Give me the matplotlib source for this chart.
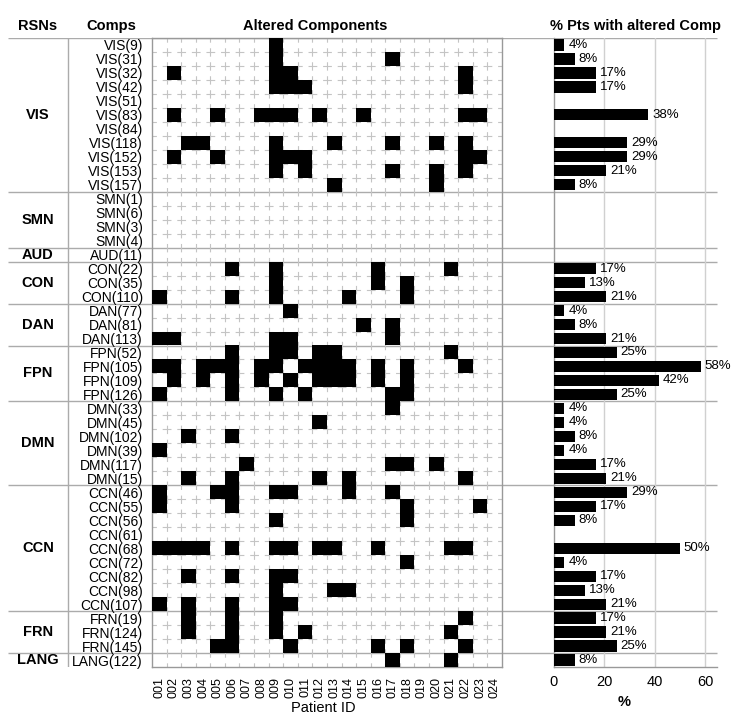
import matplotlib
matplotlib.use("Agg")
import matplotlib.pyplot as plt
from matplotlib import font_manager as fm
from matplotlib.colors import ListedColormap
import numpy as np

# resting state networks and how many components each has
rsn_names = ["VIS", "SMN", "AUD", "CON", "DAN", "FPN", "DMN", "CCN", "FRN", "LANG"]
rsn_sizes = [11, 4, 1, 3, 3, 4, 6, 9, 3, 1]

comps = ["VIS(9)", "VIS(31)", "VIS(32)", "VIS(42)", "VIS(51)", "VIS(83)", "VIS(84)",
         "VIS(118)", "VIS(152)", "VIS(153)", "VIS(157)",
         "SMN(1)", "SMN(6)", "SMN(3)", "SMN(4)",
         "AUD(11)",
         "CON(22)", "CON(35)", "CON(110)",
         "DAN(77)", "DAN(81)", "DAN(113)",
         "FPN(52)", "FPN(105)", "FPN(109)", "FPN(126)",
         "DMN(33)", "DMN(45)", "DMN(102)", "DMN(39)", "DMN(117)", "DMN(15)",
         "CCN(46)", "CCN(55)", "CCN(56)", "CCN(61)", "CCN(68)", "CCN(72)",
         "CCN(82)", "CCN(98)", "CCN(107)",
         "FRN(19)", "FRN(124)", "FRN(145)",
         "LANG(122)"]

# patients (1..24) in which each component is altered
altered = [
    [9], [9, 17], [2, 9, 10, 22], [9, 10, 11, 22], [],
    [2, 5, 8, 9, 10, 12, 15, 22, 23], [], [3, 4, 9, 13, 17, 20, 22],
    [2, 5, 9, 10, 11, 22, 23], [9, 11, 17, 20, 22], [13, 20],
    [], [], [], [],
    [],
    [6, 9, 16, 21], [9, 16, 18], [1, 6, 9, 14, 18],
    [10], [15, 17], [1, 2, 9, 10, 17],
    [6, 9, 10, 12, 13, 21], [1, 2, 4, 5, 6, 8, 9, 11, 12, 13, 14, 16, 18, 22],
    [2, 4, 6, 8, 10, 12, 13, 14, 16, 18], [1, 6, 9, 11, 17, 18],
    [17], [12], [3, 6], [1], [7, 17, 18, 20], [3, 6, 12, 14, 22],
    [1, 5, 6, 9, 10, 14, 17], [1, 6, 18, 23], [9, 18], [],
    [1, 2, 3, 4, 6, 9, 10, 12, 13, 16, 21, 22], [18], [3, 6, 9, 10],
    [9, 13, 14], [1, 3, 6, 9, 10],
    [3, 6, 9, 22], [3, 6, 9, 11, 21], [5, 6, 10, 16, 18, 22],
    [17, 21],
]

patients = ["%03d" % p for p in range(1, 25)]


def has_font(name):
    try:
        fm.findfont(fm.FontProperties(family=name), fallback_to_default=False)
        return True
    except Exception:
        return False


plt.rcParams["font.family"] = ["Liberation Sans", "DejaVu Sans"]
plt.rcParams["lines.scale_dashes"] = False
narrow = "Liberation Sans Narrow" if has_font("Liberation Sans Narrow") else "Liberation Sans"

n = len(comps)
npat = len(patients)
mat = np.zeros((n, npat))
for i, pts in enumerate(altered):
    for p in pts:
        mat[i, p - 1] = 1
pct = mat.sum(axis=1) / npat * 100

W, H = 740, 720
fig = plt.figure(figsize=(W / 100, H / 100), dpi=100)


def px_axes(x0, y0, x1, y1):
    return fig.add_axes([x0 / W, 1 - y1 / H, (x1 - x0) / W, (y1 - y0) / H])


top, bot = 38, 667
sep_col = "#ababab"
bounds = np.cumsum([0] + rsn_sizes)[:-1]

# background: separators and group labels
bg = px_axes(0, top, W, bot)
bg.set_xlim(0, W)
bg.set_ylim(n - 0.5, -0.5)
bg.axis("off")
bg.hlines(bounds - 0.5, 8, 717, color=sep_col, lw=1)
bg.vlines(68, -0.5, n - 0.5, color=sep_col, lw=1)
for name, start, size in zip(rsn_names, bounds, rsn_sizes):
    bg.text(38, start + (size - 1) / 2, name, ha="center", va="center",
            fontsize=10.5, fontweight="bold")

# altered components grid
ax = px_axes(152, top, 502, bot)
ax.set_facecolor("none")
row_pt = (bot - top) / n * 0.72
col_pt = 350 / npat * 0.72
ax.vlines(np.arange(1, npat) - 0.5, -0.5, n - 0.5, color="#c4c4c4", lw=0.8,
          linestyles=[(row_pt * 0.3, (row_pt * 0.6, row_pt * 0.4))])
inner = [r for r in range(1, n) if r not in bounds]
ax.hlines(np.array(inner) - 0.5, -0.5, npat - 0.5, color="#c4c4c4", lw=0.8,
          linestyles=[(col_pt * 0.3, (col_pt * 0.6, col_pt * 0.4))])
ax.imshow(np.ma.masked_equal(mat, 0), cmap=ListedColormap(["black"]),
          aspect="auto", interpolation="nearest", zorder=3)
ax.set_xlim(-0.5, npat - 0.5)
ax.set_ylim(n - 0.5, -0.5)
ax.set_xticks(range(npat))
ax.set_xticklabels(patients, rotation=90, fontsize=9, family=narrow)
ax.set_yticks(range(n))
ax.set_yticklabels(comps, fontsize=10)
ax.tick_params(length=0)
ax.tick_params(axis="y", pad=6.5)
ax.tick_params(axis="x", pad=7)
for s in ax.spines.values():
    s.set_color("#999999")
    s.set_linewidth(1)

# percent of patients per component
bx = px_axes(554, top, 717, bot)
bx.set_facecolor("none")
bx.set_xlim(0, 64.7)
bx.set_ylim(n - 0.5, -0.5)
for g in [20, 40, 60]:
    bx.axvline(g, color="#d0d0d0", lw=1, zorder=0)
bx.barh(range(n), pct, height=0.8, color="black", zorder=3)
for i, v in enumerate(pct):
    if v > 0:
        bx.text(v + 1.5, i, "%d%%" % int(v + 0.5), va="center", ha="left",
                fontsize=9.5, family=narrow)
bx.set_yticks([])
bx.set_xticks([0, 20, 40, 60])
bx.tick_params(length=0, labelsize=10.5, pad=6)
for side in ["top", "right"]:
    bx.spines[side].set_visible(False)
for side in ["left", "bottom"]:
    bx.spines[side].set_color("#999999")
    bx.spines[side].set_linewidth(1)

# headers and axis titles
def fig_text(x, y, s, **kw):
    fig.text(x / W, 1 - y / H, s, ha="center", va="center", **kw)

fig_text(38, 26, "RSNs", fontsize=10.5, fontweight="bold")
fig_text(111, 26, "Comps", fontsize=10.5, fontweight="bold")
fig_text(315, 26, "Altered Components", fontsize=10.5, fontweight="bold")
fig_text(636, 26, "% Pts with altered Comp", fontsize=10.5, fontweight="bold")
fig_text(323, 708, "Patient ID", fontsize=10.5)
fig_text(624, 702, "%", fontsize=10.5, fontweight="bold")

fig.savefig("out.png", dpi=100)
